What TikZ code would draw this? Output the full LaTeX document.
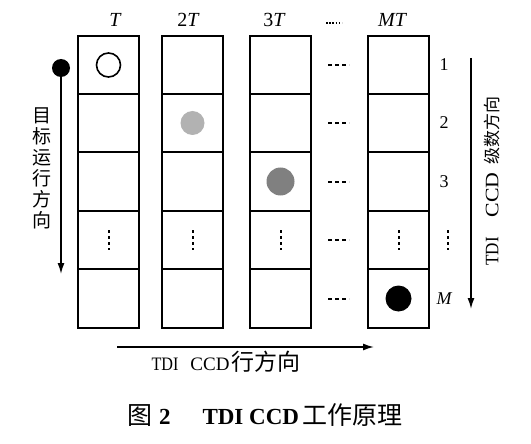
\documentclass[tikz,border=0pt]{standalone}
\usepackage{fontspec}
\setmainfont{Liberation Serif}
\newfontfamily\cjk{Noto Sans CJK SC}
\usetikzlibrary{arrows.meta}
\begin{document}
\begin{tikzpicture}[x=1pt,y=-1pt,
  cell/.style={draw,line width=2pt,minimum width=61pt,inner sep=0pt,anchor=north west},
  blob/.style={circle,inner sep=0pt,minimum size=#1},
  arr/.style={line width=1.5pt,-{Latex[length=11pt,width=7pt]}},
  lab/.style={font=\fontsize{18}{20}\selectfont,inner sep=0pt},
  hd/.style={font=\fontsize{20}{22}\selectfont\itshape,inner sep=0pt},
  gapdash/.style={line width=2pt,dash pattern=on 4pt off 3pt},
  vdots/.style={line width=2pt,dash pattern=on 2.5pt off 3.5pt}]
\useasboundingbox (0,0) rectangle (531,444);
\fill[white] (0,0) rectangle (531,444);
% cells
\foreach \c/\x in {1/77,2/161,3/249,4/367}{
  \foreach \r/\t/\h in {1/35/58,2/93/58,3/151/59,4/210/58,5/268/59}{
    \node[cell,minimum height=\h pt] (c\c-\r) at (\x,\t) {};
  }
}
% headings
\node[hd] (h1) at (115,20) {T};
\node[hd] (h2) at (188,20) {{\upshape 2}T};
\node[hd] (h3) at (274,20) {{\upshape 3}T};
\node[hd] (h4) at (392,20) {MT};
\draw[line width=1.3pt,dash pattern=on 1.6pt off 1.6pt] (326,23) -- (342,23);
% objects
\node[blob=24pt,draw,line width=1.6pt] (o1) at (c1-1) {};
\node[blob=24pt,fill=black!30] (o2) at (c2-2) {};
\node[blob=28pt,fill=black!50] (o3) at (c3-3) {};
\node[blob=26pt,fill=black] (o4) at (c4-5) {};
% vertical dots in row 4
\foreach \c in {1,2,3,4}{
  \draw[vdots] ([yshift=10pt]c\c-4.center) -- ([yshift=-10pt]c\c-4.center);
}
% gap dashes
\foreach \r in {1,...,5}{
  \draw[gapdash] ([xshift=-39pt]c4-\r.west) -- ([xshift=-18pt]c4-\r.west);
}
% row labels
\node[lab] (r1) at ([xshift=45.5pt]c4-1.center) {1};
\node[lab] (r2) at ([xshift=45.5pt]c4-2.center) {2};
\node[lab] (r3) at ([xshift=45.5pt]c4-3.center) {3};
\coordinate (r4) at ([xshift=49pt]c4-4.center);
\draw[vdots] ([yshift=10pt]r4) -- ([yshift=-10pt]r4);
\node[lab] (r5) at ([xshift=45.5pt]c4-5.center) {\itshape M};
% left object and arrow
\node[blob=18pt,fill=black] (obj) at (61,68) {};
\coordinate (objend) at (61,274);
\draw[arr] (obj.center) -- (objend);
\node[font=\fontsize{19}{21}\selectfont\cjk,align=center,inner sep=0pt] (lt) at (42,168) {目\\标\\运\\行\\方\\向};
% right arrow
\coordinate (ra) at (471,58);
\coordinate (rb) at (471,309);
\draw[arr] (ra) -- (rb);
\node[rotate=90,inner sep=0pt,font=\fontsize{19}{20}\selectfont] (rt) at (492,181) {\scalebox{0.9}[1]{TDI}\hspace{20pt}\scalebox{1.15}[1]{CCD}\hspace{8pt}{\cjk\fontsize{17}{18}\selectfont 级数方向}};
% bottom arrow
\coordinate (ba) at (117,347);
\coordinate (bb) at (374,347);
\draw[arr] (ba) -- (bb);
\node[inner sep=0pt,font=\fontsize{19}{20}\selectfont] (bt) at (226,362) {\scalebox{0.85}[1]{TDI}\hspace{12pt}CCD\hspace{2pt}{\cjk\fontsize{23}{24}\selectfont 行方向}};
% caption
\node[inner sep=0pt] (cap) at (265,415) {{\cjk\fontsize{25}{26}\selectfont 图}\hspace{7pt}{\fontsize{23}{26}\selectfont\bfseries 2\hspace{32pt}TDI CCD}\hspace{4pt}{\cjk\fontsize{25}{26}\selectfont 工作原理}};
\end{tikzpicture}
\end{document}
